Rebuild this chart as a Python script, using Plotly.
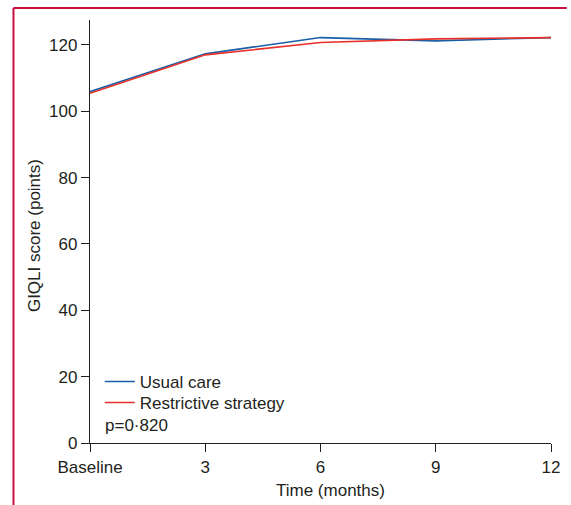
import plotly.graph_objects as go

months = [0, 3, 6, 9, 12]
tick_labels = ["Baseline", "3", "6", "9", "12"]
usual_care = [105.9, 117.3, 122.2, 121.2, 122.2]
restrictive = [105.4, 117.0, 120.7, 121.8, 122.2]
y_ticks = [0, 20, 40, 60, 80, 100, 120]

FONT = "Liberation Sans, Arial, sans-serif"
TXT = "#231f20"
FS = 17
W, H = 571, 505
L, R, T, B = 90, 11, 20, 62
pw, ph = W - L - R, H - T - B

def px_x(x):
    return (x - L) / pw

def px_y(y):
    return (H - B - y) / ph

fig = go.Figure()
fig.add_trace(go.Scatter(x=months, y=usual_care, mode="lines", name="Usual care",
                         line=dict(color="#1a5ea8", width=1.6), legend="legend"))
fig.add_trace(go.Scatter(x=months, y=restrictive, mode="lines", name="Restrictive strategy",
                         line=dict(color="#e8302a", width=1.6), legend="legend2"))

leg_common = dict(xanchor="left", yanchor="top", bgcolor="rgba(0,0,0,0)",
                  font=dict(size=FS, color=TXT), itemwidth=30)

fig.update_layout(
    width=W, height=H,
    margin=dict(l=L, r=R, t=T, b=B),
    paper_bgcolor="white", plot_bgcolor="white",
    font=dict(family=FONT, size=FS, color=TXT),
    showlegend=True,
    legend=dict(x=px_x(100), y=px_y(364), **leg_common),
    legend2=dict(x=px_x(100), y=px_y(385), **leg_common),
    xaxis=dict(range=[0, 12], tickvals=months, ticktext=tick_labels,
               showgrid=False, zeroline=False, showline=True, linecolor="#231f20",
               linewidth=1.3, ticks="outside", ticklen=8, tickcolor="#231f20",
               tickwidth=1.2, tickfont=dict(size=FS, color=TXT)),
    yaxis=dict(range=[0, 127.5], tickvals=y_ticks,
               showgrid=False, zeroline=False, showline=True, linecolor="#231f20",
               linewidth=1.3, ticks="outside", ticklen=8, tickcolor="#231f20",
               tickwidth=1.2, tickfont=dict(size=FS, color=TXT)),
    annotations=[
        dict(text="p=0·820", x=px_x(103), y=px_y(425), xref="paper", yref="paper",
             xanchor="left", yanchor="middle", showarrow=False,
             font=dict(size=FS, color=TXT)),
        dict(text="Time (months)", x=px_x(335), y=px_y(490), xref="paper", yref="paper",
             xanchor="center", yanchor="middle", showarrow=False,
             font=dict(size=FS, color=TXT)),
        dict(text="GIQLI score (points)", x=px_x(33), y=px_y(236), xref="paper", yref="paper",
             xanchor="center", yanchor="middle", showarrow=False, textangle=-90,
             font=dict(size=FS, color=TXT)),
    ],
    shapes=[
        dict(type="line", xref="paper", yref="paper", x0=px_x(12), x1=px_x(W + 5),
             y0=px_y(8), y1=px_y(8), line=dict(color="#c8103e", width=2)),
        dict(type="line", xref="paper", yref="paper", x0=px_x(12), x1=px_x(12),
             y0=px_y(8), y1=px_y(H + 5), line=dict(color="#c8103e", width=2)),
    ],
)

fig.write_html("out.html", config={"displayModeBar": False},
               post_script="document.body.style.margin='0px';document.body.style.overflow='hidden';")
